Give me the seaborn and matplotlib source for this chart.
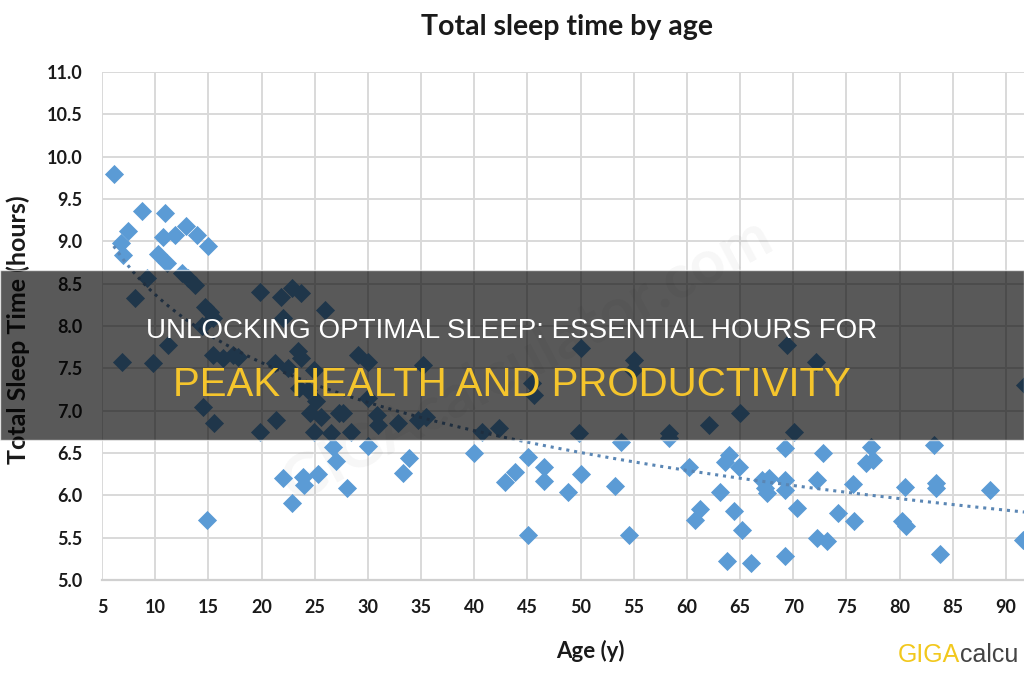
import numpy as np
import pandas as pd
import matplotlib
matplotlib.use("Agg")
import matplotlib.pyplot as plt
import seaborn as sns
from matplotlib.patches import Rectangle

# data
ages = [6.1, 8.8, 10.9, 7.4, 6.8, 7.0, 10.75, 11.9, 12.9, 13.9, 15.0, 10.3, 11.1,
        12.5, 13.1, 13.7, 9.2, 8.1, 6.9, 9.8, 14.7, 15.2, 15.4, 14.4, 11.2, 15.4,
        16.4, 17.3, 17.8, 14.5, 15.5, 14.9, 19.9, 21.4, 19.9, 21.8, 22.9, 23.7,
        22.0, 21.3, 22.5, 23.4, 23.7, 23.5, 26.0, 29.1, 30.0, 35.2, 30.0, 24.9,
        24.4, 25.1, 24.6, 25.6, 27.3, 27.7, 30.9, 31.0, 32.8, 34.7, 35.5, 24.9,
        26.5, 28.4, 40.7, 42.3, 45.4, 45.6, 22.0, 22.9, 23.9, 24.0, 25.3, 26.7,
        27.0, 28.0, 30.0, 33.9, 33.3, 40.0, 45.1, 46.6, 43.8, 42.9, 46.6, 48.8,
        50.0, 53.2, 53.8, 45.1, 54.6, 58.3, 58.3, 50.0, 55.0, 54.9, 65.0, 62.1,
        49.9, 60.2, 64.0, 63.6, 64.9, 69.2, 72.8, 77.3, 76.8, 77.5, 83.2, 63.1,
        61.2, 60.8, 64.4, 65.2, 63.8, 66.0, 67.1, 67.7, 67.5, 67.3, 69.2, 69.2,
        70.4, 69.2, 72.2, 72.2, 73.2, 74.2, 75.6, 75.7, 80.5, 80.2, 80.6, 83.4,
        83.4, 83.8, 88.5, 91.6, 69.4, 72.1, 70.1, 91.8]
sleep = [9.80, 9.36, 9.33, 9.12, 8.98, 8.84, 9.05, 9.07, 9.18, 9.07, 8.94, 8.85, 8.74,
         8.63, 8.57, 8.48, 8.57, 8.33, 7.57, 7.56, 8.22, 8.16, 8.10, 8.00, 7.77, 7.66,
         7.62, 7.66, 7.63, 7.04, 6.85, 5.71, 6.75, 6.89, 8.40, 8.34, 8.45, 8.39,
         8.09, 7.56, 7.50, 7.70, 7.62, 7.27, 8.19, 7.66, 7.57, 7.54, 7.15, 7.48,
         7.24, 7.12, 6.97, 6.93, 6.97, 6.97, 6.95, 6.83, 6.85, 6.89, 6.93, 6.75,
         6.74, 6.75, 6.75, 6.79, 7.33, 7.18, 6.20, 5.91, 6.22, 6.12, 6.25, 6.57,
         6.41, 6.09, 6.58, 6.44, 6.26, 6.50, 6.45, 6.33, 6.27, 6.16, 6.17, 6.04,
         6.25, 6.11, 6.63, 5.53, 5.53, 6.74, 6.68, 7.74, 7.60, 7.48, 6.97, 6.83,
         6.74, 6.33, 6.48, 6.39, 6.33, 6.56, 6.50, 6.57, 6.38, 6.42, 6.59, 6.04,
         5.84, 5.71, 5.81, 5.59, 5.22, 5.20, 6.18, 6.20, 6.03, 6.09, 6.18, 6.06,
         5.85, 5.28, 6.18, 5.50, 5.46, 5.79, 6.13, 5.70, 6.10, 5.70, 5.64, 6.14,
         6.09, 5.31, 6.06, 5.47, 7.77, 7.57, 6.75, 7.30]

x_ticks = list(range(5, 95, 5))
y_ticks = [5.0, 5.5, 6.0, 6.5, 7.0, 7.5, 8.0, 8.5, 9.0, 9.5, 10.0, 10.5, 11.0]

title = "Total sleep time by age"
banner_top = "UNLOCKING OPTIMAL SLEEP: ESSENTIAL HOURS FOR"
banner_bottom = "PEAK HEALTH AND PRODUCTIVITY"

df = pd.DataFrame({"Age": ages, "Sleep": sleep})

sns.set_style("white")
plt.rcParams["font.family"] = ["Lato", "DejaVu Sans"]
arial = ["Liberation Sans", "DejaVu Sans"]

fig = plt.figure(figsize=(10.24, 6.8), dpi=100)
ax = fig.add_axes([102 / 1024, 100 / 680, 922 / 1024, 508 / 680])

blue = "#5b9bd5"
sns.scatterplot(data=df, x="Age", y="Sleep", marker="D", s=95, color=blue,
                edgecolor=blue, linewidth=0, ax=ax, zorder=3)
sns.regplot(data=df, x="Age", y="Sleep", logx=True, scatter=False, ci=None, ax=ax,
            line_kws={"color": "#5a86b4", "linestyle": (0, (1, 1.6)), "linewidth": 2.2,
                      "zorder": 4})

ax.set_xlim(5, 91.7)
ax.set_ylim(5, 11)
ax.set_xticks(x_ticks)
ax.set_yticks(y_ticks)
ax.set_yticklabels([f"{v:.1f}" for v in y_ticks])
ax.grid(True, color="#d9d9d9", linewidth=1.4)
ax.set_axisbelow(True)
for side in ["top", "right", "left"]:
    ax.spines[side].set_visible(False)
ax.spines["bottom"].set_color("#d0d0d0")
ax.spines["bottom"].set_linewidth(1.6)
ax.tick_params(length=0, labelsize=13, pad=14, colors="#1a1a1a")
for lab in ax.get_xticklabels() + ax.get_yticklabels():
    lab.set_fontweight("bold")
ax.set_xlabel("Age (y)", fontsize=16, fontweight="bold", color="#1a1a1a")
ax.set_ylabel("Total Sleep Time (hours)", fontsize=18, fontweight="bold", color="#1a1a1a")
ax.xaxis.set_label_coords((590 - 102) / 922, -(640 - 580) / 508)
ax.yaxis.set_label_coords(-(102 - 30) / 922, (580 - 330) / 508)

fig.text(567 / 1024, 1 - 27 / 680, title, ha="center", va="center", fontsize=20.5,
         fontweight="bold", color="#1a1a1a")

# faint watermark
ax.text(45, 7.6, "GIGAcalculator.com", fontsize=44, color="#000000", alpha=0.035,
        rotation=28, ha="center", va="center", fontweight="bold", zorder=1)

# dark banner over the middle
fig.patches.append(Rectangle((0, 1 - 440 / 680), 1, 170 / 680, transform=fig.transFigure,
                             facecolor="black", alpha=0.65, zorder=10))
fig.text(512 / 1024, 1 - 331 / 680, banner_top, ha="center", va="center", fontsize=20,
         color="white", family=arial, zorder=11)
fig.text(512 / 1024, 1 - 385 / 680, banner_bottom, ha="center", va="center", fontsize=29,
         color="#f5c52c", family=arial, zorder=11)

# logo bottom right
t1 = fig.text(898 / 1024, 1 - 655 / 680, "GIGA", ha="left", va="center", fontsize=18,
              color="#f2c81d", family=arial)
ax.annotate("calcu", xy=(1, 0.5), xycoords=t1, ha="left", va="center",
            fontsize=18, color="#444444", family=arial, annotation_clip=False)

fig.savefig("out.png", dpi=100)
